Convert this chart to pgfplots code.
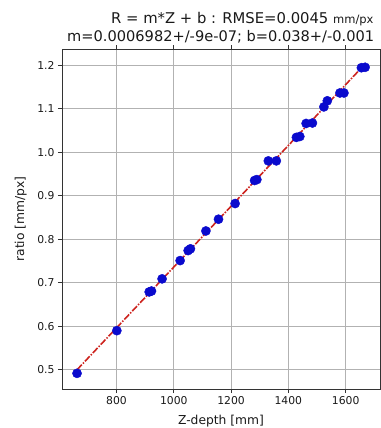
\documentclass[border=0pt]{standalone}
\usepackage{fontspec}
\setmainfont{DejaVu Sans}
\usepackage{pgfplots}
\pgfplotsset{compat=1.18}
\usetikzlibrary{calc}
\definecolor{dotblue}{RGB}{10,10,205}
\definecolor{fitred}{RGB}{205,35,30}
\begin{document}
\begin{tikzpicture}
\begin{axis}[
  name=ax, at={(0,0)}, anchor=south west,
  width=318pt, height=340pt, scale only axis,
  xmin=609.5, xmax=1720, ymin=0.456, ymax=1.237,
  xtick={800,1000,1200,1400,1600},
  ytick={0.5,0.6,0.7,0.8,0.9,1.0,1.1,1.2},
  yticklabel style={/pgf/number format/.cd, fixed, fixed zerofill, precision=1},
  xticklabel style={/pgf/number format/1000 sep={}},
  /pgf/number format/assume math mode=true,
  grid=major,
  major grid style={draw=black!30, line width=0.8pt},
  tick align=outside, major tick length=4pt,
  tick style={black!80, line width=0.8pt},
  axis line style={black!80, line width=0.9pt},
  ticklabel style={font=\fontsize{10.8}{12}\selectfont, text=black!90},
  xlabel={Z-depth [mm]}, ylabel={ratio [mm/px]},
  label style={font=\fontsize{12.3}{14}\selectfont, text=black!90},
  xlabel style={at={(axis description cs:0.5,-0.094)}, anchor=center},
  ylabel style={at={(axis description cs:-0.13,0.5)}, anchor=center},
]
\addplot[only marks, mark=*, mark size=4.6pt, mark options={fill=dotblue, draw=dotblue}]
coordinates {
(662,0.492) (801,0.590) (914,0.679) (922,0.681) (959,0.709)
(1022,0.751) (1050,0.774) (1058,0.778) (1112,0.819) (1156,0.846)
(1214,0.882) (1282,0.935) (1290,0.937) (1330,0.980) (1358,0.980)
(1428,1.034) (1440,1.036) (1462,1.066) (1484,1.067) (1524,1.104)
(1536,1.118) (1580,1.136) (1594,1.136) (1655,1.194) (1668,1.195)
};
\addplot[fitred, line width=1.6pt, dash pattern=on 7pt off 1.5pt on 1.5pt off 1.5pt]
coordinates {(662,0.5002) (1668,1.2026)};
\end{axis}
\node[anchor=base west, font=\fontsize{14.8}{17}\selectfont, text=black!90, inner sep=0pt]
  at ($(ax.north west)+(49pt,25.7pt)$) {R = m*Z + b : RMSE=0.0045 {\fontsize{11.5}{13}\selectfont mm/px}};
\node[anchor=base west, font=\fontsize{14.6}{17}\selectfont, text=black!90, inner sep=0pt]
  at ($(ax.north west)+(5pt,7.3pt)$) {m=0.0006982+/-9e-07; b=0.038+/-0.001};
\pgfresetboundingbox
\useasboundingbox ($(ax.south west)+(-62pt,-39pt)$) rectangle ($(ax.north east)+(0pt,49pt)$);
\end{tikzpicture}
\end{document}
